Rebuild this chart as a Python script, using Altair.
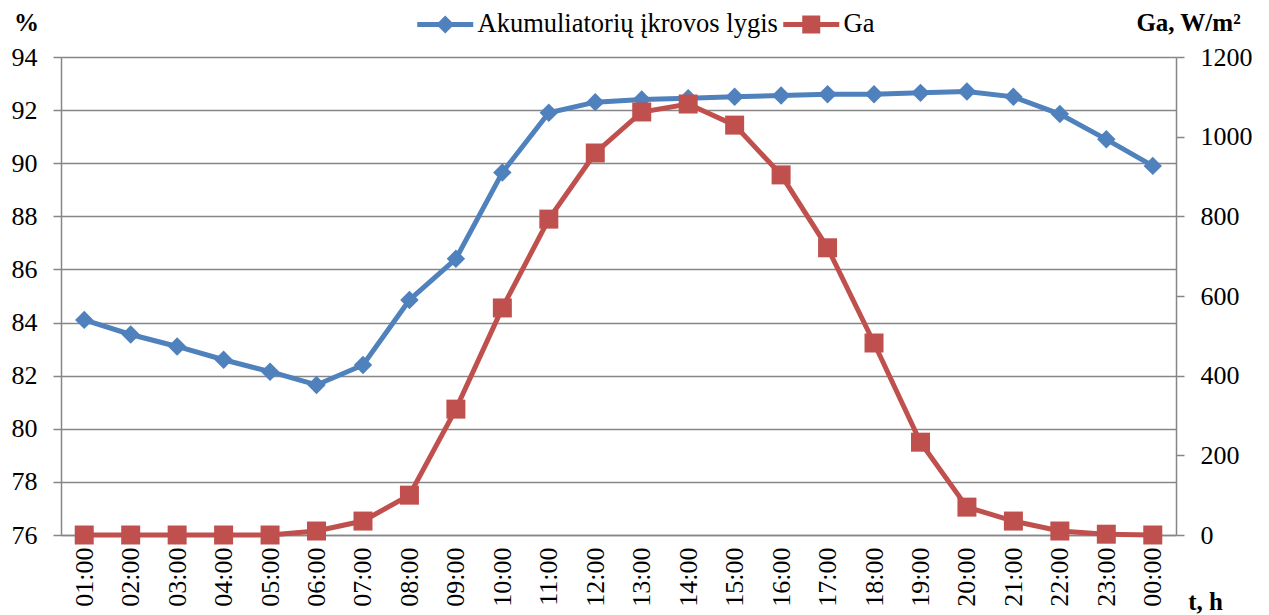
import altair as alt
import pandas as pd

hours = ["01:00", "02:00", "03:00", "04:00", "05:00", "06:00", "07:00", "08:00",
         "09:00", "10:00", "11:00", "12:00", "13:00", "14:00", "15:00", "16:00",
         "17:00", "18:00", "19:00", "20:00", "21:00", "22:00", "23:00", "00:00"]
soc = [84.1, 83.55, 83.1, 82.6, 82.15, 81.65, 82.4, 84.85, 86.4, 89.65, 91.9, 92.3,
       92.4, 92.45, 92.5, 92.55, 92.6, 92.6, 92.65, 92.7, 92.5, 91.85, 90.9, 89.9]
ga = [0, 0, 0, 0, 0, 10, 35, 100, 316, 570, 793, 959,
      1062, 1082, 1029, 904, 721, 482, 233, 70, 35, 10, 2, 0]
series_names = ["Akumuliatorių įkrovos lygis", "Ga"]
series_colors = ["#4F81BD", "#C0504D"]
left_ticks = [76, 78, 80, 82, 84, 86, 88, 90, 92, 94]
right_ticks = [0, 200, 400, 600, 800, 1000, 1200]

FONT = "Times New Roman, Liberation Serif, serif"
GRID = "#868686"

df = pd.DataFrame({"hour": hours, "soc": soc, "ga": ga})
legend_df = pd.DataFrame({"series": series_names})

x_enc = alt.X(
    "hour:N", sort=hours, title="t, h",
    axis=alt.Axis(labelAngle=270, ticks=False, tickSize=0, labelPadding=12,
                  domainColor=GRID, domainWidth=1.5, grid=False,
                  labelFont=FONT, titleFont=FONT,
                  titleX=1144, titleY=66, titleAlign="center", titleBaseline="middle",
                  titleAngle=0),
)

y_left = alt.Y(
    "soc:Q", title="%",
    scale=alt.Scale(domain=[76, 94], nice=False, zero=False),
    axis=alt.Axis(orient="left", values=left_ticks, grid=True, gridColor=GRID, gridWidth=1.5,
                  domainColor=GRID, domainWidth=1.5, tickColor=GRID, tickWidth=1.5,
                  labelFont=FONT, titleFont=FONT, format="d",
                  tickSize=8, labelPadding=16, titleAngle=0, titleX=-35, titleY=-35,
                  titleAlign="center", titleBaseline="middle"),
)
y_right = alt.Y(
    "ga:Q", title="Ga, W/m²",
    scale=alt.Scale(domain=[0, 1200], nice=False, zero=True),
    axis=alt.Axis(orient="right", values=right_ticks, grid=False,
                  domainColor=GRID, domainWidth=1.5, tickColor=GRID, tickWidth=1.5,
                  labelFont=FONT, titleFont=FONT, format="d",
                  tickSize=8, labelPadding=16, titleAngle=0, titleX=12, titleY=-35,
                  titleAlign="center", titleBaseline="middle"),
)

base = alt.Chart(df)
blue = alt.layer(
    base.mark_line(color=series_colors[0], strokeWidth=5).encode(x=x_enc, y=y_left),
    base.mark_point(shape="diamond", filled=True, size=340, opacity=1,
                    color=series_colors[0]).encode(x=x_enc, y=y_left),
)
red = alt.layer(
    base.mark_line(color=series_colors[1], strokeWidth=5).encode(x=x_enc, y=y_right),
    base.mark_point(shape="square", filled=True, size=361, opacity=1,
                    color=series_colors[1]).encode(x=x_enc, y=y_right),
)

blue_sym = "M-2.8,-0.25H2.8V0.25H-2.8Z M0,-0.9L0.9,0L0,0.9L-0.9,0Z"
red_sym = "M-2.8,-0.25H2.8V0.25H-2.8Z M-0.9,-0.9H0.9V0.9H-0.9Z"

leg = alt.Legend(orient="none", legendX=371, legendY=-46, direction="horizontal",
                 title=None, symbolSize=400, symbolStrokeWidth=0, symbolOpacity=1,
                 labelFont=FONT, labelFontSize=26.5, labelColor="black", labelOffset=19,
                 columnPadding=5, labelLimit=600)

legend_layer = alt.Chart(legend_df).mark_point(filled=True, opacity=0).encode(
    color=alt.Color("series:N", scale=alt.Scale(domain=series_names, range=series_colors),
                    legend=leg),
    shape=alt.Shape("series:N", scale=alt.Scale(domain=series_names, range=[blue_sym, red_sym]),
                    legend=leg),
)

chart = alt.layer(blue, red, legend_layer).resolve_scale(y="independent").properties(
    width=1115, height=478,
    autosize=alt.AutoSizeParams(type="none"),
    padding={"left": 53, "top": 49, "right": 85, "bottom": 80},
    background="white",
).configure(font=FONT).configure_view(stroke=None).configure_axis(
    labelFont=FONT, labelFontSize=26, labelColor="black",
    titleFont=FONT, titleFontSize=25, titleFontWeight="bold", titleColor="black",
).configure_legend(labelFont=FONT)

chart.save("out.html", embed_options={"renderer": "svg", "actions": False})
